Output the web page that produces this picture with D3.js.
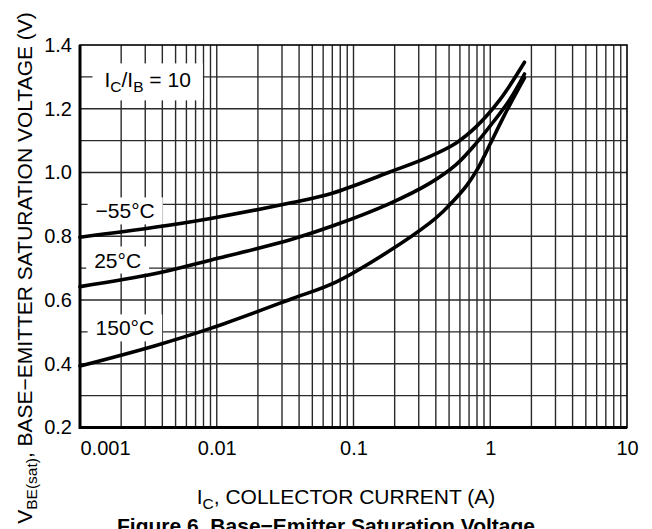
<!DOCTYPE html>
<html lang="en">
<head>
  <meta charset="UTF-8">
  <title>Base-Emitter Saturation Voltage</title>
  <script src="https://d3js.org/d3.v7.min.js"></script>
  <style>
    body { margin: 0; background: #fff; }
    svg { display: block; }
    text { font-family: "Liberation Sans", Arial, Helvetica, sans-serif; fill: #000; }
  </style>
</head>
<body>
  <script>
    const width = 652;
    const height = 529;

    // collector current (A) / Vbe(sat) (V)
    const ic55 = [0.001, 0.0035, 0.009, 0.035, 0.07, 0.18, 0.36, 0.56, 0.79, 1.17, 1.78];
    const vbe55 = [0.797, 0.828, 0.856, 0.905, 0.935, 1.0, 1.05, 1.092, 1.144, 1.227, 1.346];

    const ic25 = [0.001, 0.0035, 0.009, 0.035, 0.07, 0.18, 0.36, 0.56, 0.79, 0.99, 1.38, 1.78];
    const vbe25 = [0.642, 0.682, 0.725, 0.79, 0.832, 0.901, 0.966, 1.024, 1.092, 1.144, 1.227, 1.309];

    const ic150 = [0.001, 0.0035, 0.009, 0.035, 0.075, 0.18, 0.36, 0.45, 0.56, 0.68, 0.8, 0.9, 1.0, 1.27, 1.55, 1.78];
    const vbe150 = [0.393, 0.456, 0.511, 0.603, 0.657, 0.752, 0.841, 0.877, 0.919, 0.962, 1.008, 1.05, 1.09, 1.18, 1.25, 1.297];

    const xTicks = [0.001, 0.01, 0.1, 1, 10];
    const xTickLabels = ["0.001", "0.01", "0.1", "1", "10"];
    const yTicks = [0.2, 0.4, 0.6, 0.8, 1.0, 1.2, 1.4];
    const yGrid = [0.3, 0.4, 0.5, 0.6, 0.7, 0.8, 0.9, 1.0, 1.1, 1.2, 1.3];

    // curve labels: text, current at left of text, voltage at text middle
    const labelText = ["−55°C", "25°C", "150°C"];
    const labelIc = [0.0013, 0.00127, 0.0013];
    const labelV = [0.879, 0.725, 0.512];

    const margin = { top: 45, right: 25, bottom: 101.5, left: 80 };

    const x = d3.scaleLog()
      .domain([0.001, 10])
      .range([margin.left, width - margin.right]);

    const y = d3.scaleLinear()
      .domain([0.2, 1.4])
      .range([height - margin.bottom, margin.top]);

    const svg = d3.select("body").append("svg")
      .attr("width", width)
      .attr("height", height);

    // minor log grid
    const xGrid = [];
    [0.001, 0.01, 0.1, 1].forEach(d => {
      for (let k = 1; k <= 9; k++) xGrid.push(d * k);
    });

    const grid = svg.append("g")
      .attr("stroke", "#2a2a2a")
      .attr("stroke-width", 1.4);

    grid.selectAll(".vg")
      .data(xGrid.filter(v => v > 0.001))
      .enter().append("line")
      .attr("x1", d => x(d)).attr("x2", d => x(d))
      .attr("y1", y(0.2)).attr("y2", y(1.4));

    grid.selectAll(".hg")
      .data(yGrid)
      .enter().append("line")
      .attr("x1", x(0.001)).attr("x2", x(10))
      .attr("y1", d => y(d)).attr("y2", d => y(d));

    // frame
    svg.append("rect")
      .attr("x", x(0.001)).attr("y", y(1.4))
      .attr("width", x(10) - x(0.001))
      .attr("height", y(0.2) - y(1.4))
      .attr("fill", "none")
      .attr("stroke", "#000")
      .attr("stroke-width", 1.6);

    svg.append("path")
      .attr("d", `M${x(0.001)},${y(1.4)}V${y(0.2)}H${x(10)}`)
      .attr("fill", "none")
      .attr("stroke", "#000")
      .attr("stroke-width", 3);

    // labels with white boxes, drawn over grid, under curves
    function boxedLabel(node, padX, padY) {
      const b = node.node().getBBox();
      d3.select(node.node().parentNode).insert("rect", "text")
        .attr("x", b.x - padX).attr("y", b.y - padY)
        .attr("width", b.width + 2 * padX)
        .attr("height", b.height + 2 * padY)
        .attr("fill", "#fff");
    }

    const ratio = svg.append("g");
    const ratioText = ratio.append("text")
      .attr("x", x(0.00151)).attr("y", y(1.29))
      .attr("dy", "0.35em")
      .attr("font-size", 21);
    ratioText.append("tspan").text("I");
    ratioText.append("tspan").attr("font-size", 15.5).attr("dy", 5).text("C");
    ratioText.append("tspan").attr("dy", -5).text("/I");
    ratioText.append("tspan").attr("font-size", 15.5).attr("dy", 5).text("B");
    ratioText.append("tspan").attr("dy", -5).text(" = 10");
    boxedLabel(ratioText, 12, 5);

    labelText.forEach((t, i) => {
      const g = svg.append("g");
      const txt = g.append("text")
        .attr("x", x(labelIc[i])).attr("y", y(labelV[i]))
        .attr("dy", "0.35em")
        .attr("font-size", 21)
        .text(t);
      boxedLabel(txt, 8, 2);
    });

    // curves
    const line = d3.line()
      .x(d => x(d[0]))
      .y(d => y(d[1]))
      .curve(d3.curveCatmullRom.alpha(0.5));

    [[ic55, vbe55], [ic25, vbe25], [ic150, vbe150]].forEach(([ic, v]) => {
      svg.append("path")
        .datum(ic.map((c, i) => [c, v[i]]))
        .attr("d", line)
        .attr("fill", "none")
        .attr("stroke", "#000")
        .attr("stroke-width", 3.6)
        .attr("stroke-linecap", "round")
        .attr("stroke-linejoin", "round");
    });

    // axes labels
    const xAxis = d3.axisBottom(x)
      .tickValues(xTicks)
      .tickFormat((d, i) => xTickLabels[i])
      .tickSize(0)
      .tickPadding(13);

    const gx = svg.append("g")
      .attr("transform", `translate(0,${y(0.2)})`)
      .call(xAxis);
    gx.select(".domain").remove();
    gx.selectAll("text")
      .attr("font-size", 20)
      .attr("font-family", null)
      .attr("text-anchor", (d, i) => i === 0 ? "start" : "middle");

    const yAxis = d3.axisLeft(y)
      .tickValues(yTicks)
      .tickFormat(d3.format(".1f"))
      .tickSize(0)
      .tickPadding(8);

    const gy = svg.append("g")
      .attr("transform", `translate(${x(0.001)},0)`)
      .call(yAxis);
    gy.select(".domain").remove();
    gy.selectAll("text")
      .attr("font-size", 20)
      .attr("font-family", null);

    const xt = svg.append("text")
      .attr("x", 346).attr("y", 504)
      .attr("text-anchor", "middle")
      .attr("font-size", 21);
    xt.append("tspan").text("I");
    xt.append("tspan").attr("font-size", 15.5).attr("dy", 5).text("C");
    xt.append("tspan").attr("dy", -5).text(", COLLECTOR CURRENT (A)");

    const yt = svg.append("text")
      .attr("transform", `translate(32,${268}) rotate(-90)`)
      .attr("text-anchor", "middle")
      .attr("font-size", 21);
    yt.append("tspan").text("V");
    yt.append("tspan").attr("font-size", 15.5).attr("dy", 5).text("BE(sat)");
    yt.append("tspan").attr("dy", -5).text(", BASE−EMITTER SATURATION VOLTAGE (V)");

    svg.append("text")
      .attr("x", width / 2).attr("y", 533)
      .attr("text-anchor", "middle")
      .attr("font-size", 21)
      .attr("font-weight", "bold")
      .text("Figure 6. Base−Emitter Saturation Voltage");
  </script>
</body>
</html>
